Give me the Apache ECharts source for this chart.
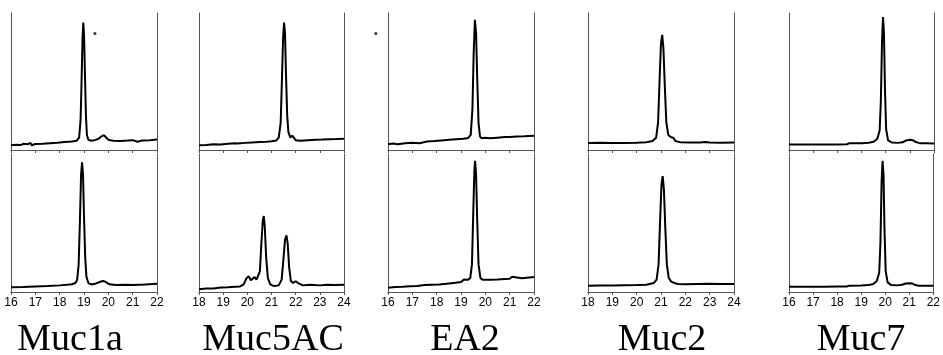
<!DOCTYPE html>
<html>
<head>
<meta charset="utf-8">
<script src="https://cdn.jsdelivr.net/npm/echarts@6/dist/echarts.min.js"></script>
<style>
html,body{margin:0;padding:0;background:#fff;}
#chart{width:943px;height:355px;}
</style>
</head>
<body>
<div id="chart"></div>
<script>
// ---- Data ----
const columnNames = ['Muc1a', 'Muc5AC', 'EA2', 'Muc2', 'Muc7'];
const xMins = [16, 18, 16, 18, 16];
const xMaxs = [22, 24, 22, 24, 22];

const muc1aTop = [[16.0,3.5],[16.2,3.8],[16.4,3.6],[16.5,4.5],[16.55,3.2],[16.7,4.2],[16.8,5.2],[16.85,3.5],[17.0,4.4],[17.3,4.6],[17.6,5.0],[17.9,5.3],[18.2,5.8],[18.5,6.2],[18.7,6.8],[18.8,9],[18.86,22],[18.9,50],[18.94,82],[18.97,93],[19.0,85],[19.04,55],[19.08,25],[19.12,11],[19.18,7.5],[19.3,6.8],[19.45,7.2],[19.6,8.2],[19.72,10],[19.82,10.8],[19.9,9.5],[20.0,7.5],[20.2,6.8],[20.5,6.6],[20.8,6.9],[21.0,7.2],[21.2,6.0],[21.4,7.0],[21.7,7.2],[22.0,7.6]];
const muc1aBottom = [[16.0,3.4],[16.5,3.6],[17.0,4.0],[17.5,4.3],[18.0,4.8],[18.3,5.2],[18.5,5.6],[18.65,6.5],[18.72,9],[18.78,20],[18.83,50],[18.88,85],[18.92,94],[18.96,85],[19.0,55],[19.05,25],[19.1,11],[19.18,6.5],[19.3,5.5],[19.5,6.2],[19.7,7.6],[19.8,8],[19.9,7.2],[20.05,5.6],[20.3,5.0],[20.7,5.2],[21.0,5.0],[21.5,5.4],[22.0,6.0]];
const muc5acTop = [[18.0,3.5],[18.3,3.6],[18.6,4.2],[18.9,4.0],[19.2,4.6],[19.5,5.0],[19.55,6.2],[19.6,4.8],[19.9,5.2],[20.2,5.5],[20.5,5.8],[20.8,6.0],[21.0,6.4],[21.2,7.0],[21.3,9],[21.38,20],[21.43,50],[21.48,82],[21.52,93],[21.56,85],[21.6,55],[21.65,25],[21.7,13],[21.78,9],[21.86,10.5],[21.92,9.5],[22.0,7.2],[22.2,6.8],[22.5,7.2],[22.8,7.5],[23.1,7.6],[23.4,7.9],[23.7,8.0],[24.0,8.2]];
const muc5acBottom = [[18.0,2.0],[18.3,2.5],[18.6,2.6],[18.9,3.2],[19.2,3.4],[19.5,3.8],[19.7,4.0],[19.85,5.5],[19.95,9.5],[20.05,11.5],[20.15,8.5],[20.22,8],[20.3,10.8],[20.38,9],[20.46,8],[20.52,15],[20.58,35],[20.64,52],[20.68,55],[20.72,48],[20.78,25],[20.85,10],[20.95,5.5],[21.1,4.3],[21.3,4.8],[21.42,9],[21.5,25],[21.56,38],[21.62,41],[21.67,35],[21.73,18],[21.8,8],[21.9,6.5],[22.0,7.8],[22.1,6.5],[22.3,4.8],[22.6,5.2],[23.0,4.8],[23.3,5.2],[23.6,5.0],[24.0,5.2]];
const ea2Top = [[16.0,4.2],[16.2,4.8],[16.4,4.2],[16.7,5.0],[17.0,5.3],[17.3,5.0],[17.6,6.2],[17.9,6.5],[18.2,7.0],[18.5,7.4],[18.8,7.8],[19.1,8.2],[19.3,8.8],[19.4,11],[19.47,30],[19.52,70],[19.57,95],[19.62,85],[19.67,50],[19.72,20],[19.78,10],[19.85,8.5],[20.0,9.0],[20.2,8.6],[20.5,9.0],[20.8,9.4],[21.0,9.5],[21.3,9.8],[21.6,10.0],[22.0,10.4]];
const ea2Bottom = [[16.0,3.0],[16.3,3.6],[16.6,3.8],[16.9,4.2],[17.2,4.3],[17.5,5.0],[17.8,5.2],[18.1,5.4],[18.4,5.9],[18.7,6.6],[19.0,7.2],[19.12,9],[19.2,10],[19.28,8.8],[19.38,10],[19.45,20],[19.5,55],[19.55,88],[19.58,95],[19.62,85],[19.67,50],[19.72,20],[19.8,10],[19.9,8.8],[20.2,8.8],[20.5,9.0],[20.8,9.4],[21.0,9.6],[21.1,11],[21.15,9.6],[21.5,10.0],[22.0,10.8]];
const muc2Top = [[18.0,5.2],[18.5,5.3],[19.0,5.2],[19.5,5.2],[20.0,5.3],[20.4,5.6],[20.65,6.5],[20.8,9],[20.88,20],[20.95,55],[21.0,78],[21.05,84],[21.1,74],[21.16,45],[21.22,20],[21.3,11],[21.4,9.5],[21.5,9],[21.6,6.5],[21.8,5.6],[22.2,5.4],[22.6,5.4],[22.8,5.8],[23.0,5.4],[23.5,5.3],[24.0,5.4]];
const muc2Bottom = [[18.0,4.5],[18.5,4.8],[19.0,4.8],[19.5,4.9],[20.0,5.0],[20.4,5.3],[20.7,6.5],[20.82,9],[20.9,20],[20.97,55],[21.02,78],[21.07,84],[21.12,74],[21.18,45],[21.24,20],[21.32,10],[21.42,7.5],[21.55,6.5],[21.7,5.8],[22.0,5.6],[22.5,5.8],[23.0,5.9],[23.5,5.8],[24.0,5.8]];
const muc7Top = [[16.0,4.0],[16.5,4.0],[17.0,4.0],[17.5,4.0],[18.0,4.0],[18.4,4.2],[18.5,5.0],[19.0,5.0],[19.3,5.3],[19.5,6.0],[19.65,8],[19.75,14],[19.8,35],[19.85,80],[19.89,97],[19.93,85],[19.97,45],[20.02,15],[20.1,7],[20.25,5.5],[20.5,5.2],[20.7,5.6],[20.85,7],[21.0,7.4],[21.12,7.2],[21.25,5.8],[21.4,5.0],[21.7,5.0],[22.0,4.8]];
const muc7Bottom = [[16.0,3.8],[16.5,3.8],[17.0,3.8],[17.5,3.8],[18.0,3.9],[18.4,4.0],[18.5,4.6],[19.0,4.7],[19.3,5.0],[19.5,5.8],[19.65,8],[19.75,14],[19.8,35],[19.85,80],[19.89,95],[19.93,85],[19.97,45],[20.02,15],[20.1,7],[20.25,5.0],[20.5,4.8],[20.7,5.3],[20.85,6.2],[21.0,6.4],[21.12,6.2],[21.25,5.0],[21.4,4.6],[21.7,4.5],[22.0,4.5]];

// stray dots in the original figure: [column, x, y] (top panels)
const strayDots = [[0, 19.45, 85], [2, 15.5, 85]];

const topCurves = [muc1aTop, muc5acTop, ea2Top, muc2Top, muc7Top];
const bottomCurves = [muc1aBottom, muc5acBottom, ea2Bottom, muc2Bottom, muc7Bottom];

// ---- Layout ----
const colLeft = [11, 199, 388, 588, 789];
const colWidth = [146, 145, 146, 146, 145];
const panelTop = [13, 154];
const panelHeight = [137, 138];
const labelCenterX = [65, 268, 460, 657, 856];

const boxColor = '#555';
const grids = [], xAxes = [], yAxes = [], series = [], titles = [];

for (let c = 0; c < columnNames.length; c++) {
  for (let p = 0; p < 2; p++) {
    const gi = grids.length;
    grids.push({ left: colLeft[c], top: panelTop[p], width: colWidth[c], height: panelHeight[p], show: false });
    xAxes.push({
      type: 'value', gridIndex: gi, position: 'bottom', min: xMins[c], max: xMaxs[c], interval: 1,
      axisLine: { show: true, lineStyle: { color: '#777', width: 1, type: 'dotted' } },
      axisTick: { show: true, length: 3, lineStyle: { color: '#555' } },
      axisLabel: { show: p === 1, color: '#000', fontSize: 12, margin: 5, fontFamily: '"Liberation Sans Narrow", "Liberation Sans", Arial, sans-serif' },
      splitLine: { show: false }
    });
    xAxes.push({
      type: 'value', gridIndex: gi, position: 'top', min: xMins[c], max: xMaxs[c], interval: 1,
      axisLine: { show: true, lineStyle: { color: boxColor, width: 1 } },
      axisTick: { show: false }, axisLabel: { show: false }, splitLine: { show: false }
    });
    yAxes.push({
      type: 'value', gridIndex: gi, position: 'left', min: 0, max: 100,
      axisLine: { show: true, lineStyle: { color: boxColor, width: 1 } },
      axisTick: { show: false }, axisLabel: { show: false }, splitLine: { show: false }
    });
    yAxes.push({
      type: 'value', gridIndex: gi, position: 'right', min: 0, max: 100,
      axisLine: { show: true, lineStyle: { color: boxColor, width: 1 } },
      axisTick: { show: false }, axisLabel: { show: false }, splitLine: { show: false }
    });
    series.push({
      type: 'line', xAxisIndex: 2 * gi, yAxisIndex: 2 * gi,
      data: p === 0 ? topCurves[c] : bottomCurves[c],
      showSymbol: false, symbol: 'none',
      lineStyle: { color: '#000', width: 2 }, clip: true
    });
    if (p === 0) {
      const dots = strayDots.filter(d => d[0] === c).map(d => [d[1], d[2]]);
      if (dots.length) {
        series.push({
          type: 'scatter', xAxisIndex: 2 * gi, yAxisIndex: 2 * gi, data: dots,
          symbolSize: 3, itemStyle: { color: '#000' }, clip: false
        });
      }
    }
  }
  titles.push({
    text: columnNames[c], left: labelCenterX[c], textAlign: 'center', top: 316,
    textStyle: { fontFamily: '"Liberation Serif", "Times New Roman", serif', fontSize: 38, fontWeight: 'normal', color: '#000' }
  });
}

const chart = echarts.init(document.getElementById('chart'), null, { renderer: 'canvas' });
chart.setOption({
  backgroundColor: '#fff',
  animation: false,
  title: titles,
  grid: grids,
  xAxis: xAxes,
  yAxis: yAxes,
  series: series
});
</script>
</body>
</html>
